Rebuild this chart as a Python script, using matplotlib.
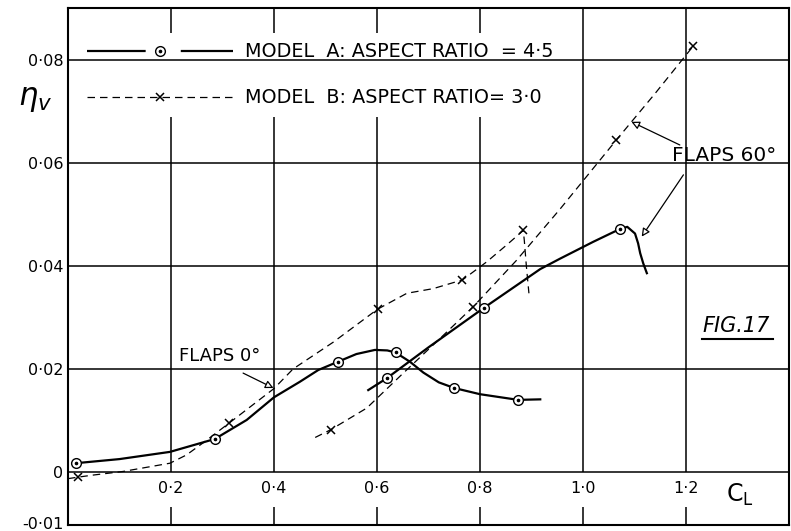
import matplotlib
matplotlib.use('Agg')

import matplotlib.pyplot as plt
from matplotlib.lines import Line2D
from matplotlib.legend_handler import HandlerTuple

plt.rcParams['font.family'] = ['DejaVu Sans']

# Model A (aspect ratio 4.5), flaps 0 deg: test points and traced faired curve
a0_cl = [0.015, 0.285, 0.524, 0.636, 0.750, 0.874]
a0_eta = [0.0017, 0.0064, 0.0214, 0.0232, 0.0163, 0.0140]
a0_curve_cl = [0.015, 0.10, 0.198, 0.285, 0.347, 0.40, 0.45, 0.486, 0.524, 0.56, 0.596,
               0.620, 0.636, 0.664, 0.690, 0.720, 0.750, 0.800, 0.874, 0.917]
a0_curve_eta = [0.0017, 0.0025, 0.0039, 0.0064, 0.0101, 0.0145, 0.0175, 0.0198, 0.0214, 0.0229, 0.0237,
                0.0236, 0.0232, 0.0214, 0.0193, 0.0174, 0.0163, 0.0151, 0.0140, 0.0141]

# Model A, flaps 60 deg
a60_cl = [0.619, 0.808, 1.072]
a60_eta = [0.0182, 0.0319, 0.0472]
a60_curve_cl = [0.583, 0.619, 0.70, 0.808, 0.917, 0.955, 1.02, 1.072, 1.086, 1.101, 1.107,
                1.111, 1.117, 1.124]
a60_curve_eta = [0.0159, 0.0182, 0.0242, 0.0319, 0.0394, 0.0414, 0.0447, 0.0472, 0.0476, 0.0463, 0.0444,
                 0.0425, 0.0405, 0.0386]

# Model B (aspect ratio 3.0), flaps 0 deg
b0_cl = [0.02, 0.313, 0.601, 0.766, 0.884]
b0_eta = [-0.0010, 0.0095, 0.0316, 0.0373, 0.0469]
b0_curve_cl = [0.0, 0.02, 0.049, 0.107, 0.198, 0.230, 0.263, 0.313, 0.40, 0.437, 0.515, 0.601,
               0.658, 0.709, 0.766, 0.813, 0.852, 0.884, 0.886, 0.890, 0.895]
b0_curve_eta = [-0.0013, -0.0010, -0.0006, 0.0001, 0.0017, 0.0033, 0.0057, 0.0095, 0.0162, 0.0200, 0.0252, 0.0316,
                0.0347, 0.0356, 0.0373, 0.0408, 0.0441, 0.0469, 0.0450, 0.0400, 0.0347]

# Model B, flaps 60 deg
b60_cl = [0.510, 0.787, 1.065, 1.214]
b60_eta = [0.0082, 0.0321, 0.0645, 0.0827]
b60_curve_cl = [0.48, 0.51, 0.58, 0.65, 0.72, 0.787, 0.87, 0.955, 1.065, 1.14, 1.214]
b60_curve_eta = [0.0067, 0.0082, 0.0124, 0.0191, 0.0257, 0.0321, 0.0410, 0.0510, 0.0645, 0.0735, 0.0827]

x_ticks = [0.2, 0.4, 0.6, 0.8, 1.0, 1.2]
x_labels = ['0·2', '0·4', '0·6', '0·8', '1·0', '1·2']
y_ticks = [0.08, 0.06, 0.04, 0.02, 0.0, -0.01]
y_labels = ['0·08', '0·06', '0·04', '0·02', '0', '-0·01']
grid_y = [0.0, 0.02, 0.04, 0.06, 0.08]

fig = plt.figure(figsize=(7.91, 5.31), dpi=100)
ax = fig.add_axes([68 / 791, 6 / 531, 721 / 791, 517 / 531])
ax.set_xlim(0, 1.4)
ax.set_ylim(-0.0103, 0.0901)

for s in ax.spines.values():
    s.set_linewidth(1.5)

# grid: verticals stop at the zero line, horizontals run full width
ax.vlines(x_ticks, 0, 0.0901, colors='black', lw=1.1, zorder=1)
for gy in grid_y:
    # the 0.08 line runs over the legend box, as in the original
    ax.axhline(gy, color='black', lw=1.1, zorder=3 if gy == 0.08 else 1)

ax.set_xticks(x_ticks)
ax.set_xticklabels(x_labels)
ax.tick_params(axis='x', direction='in', length=13, width=1.1, pad=-31.5, labelsize=11.5)
ax.set_yticks(y_ticks)
ax.set_yticklabels(y_labels)
ax.tick_params(axis='y', length=0, pad=3.5, labelsize=11.5)

# curves
ax.plot(a0_curve_cl, a0_curve_eta, color='black', lw=1.6, zorder=4)
ax.plot(a60_curve_cl, a60_curve_eta, color='black', lw=1.6, zorder=4)
ax.plot(b0_curve_cl, b0_curve_eta, color='black', lw=0.9, dashes=(6, 4), zorder=4)
ax.plot(b60_curve_cl, b60_curve_eta, color='black', lw=0.9, dashes=(6, 4), zorder=4)

# points
circ_kw = dict(ls='none', marker='o', ms=7, mfc='white', mec='black', mew=1.0, zorder=5)
dot_kw = dict(ls='none', marker='o', ms=1.6, mfc='black', mec='black', zorder=6)
ax.plot(a0_cl, a0_eta, **circ_kw)
ax.plot(a0_cl, a0_eta, **dot_kw)
ax.plot(a60_cl, a60_eta, **circ_kw)
ax.plot(a60_cl, a60_eta, **dot_kw)
cross_kw = dict(ls='none', marker='x', ms=6, mec='black', mew=1.1, zorder=5)
ax.plot(b0_cl, b0_eta, **cross_kw)
ax.plot(b60_cl, b60_eta, **cross_kw)

# legend
h_a_line = Line2D([], [], color='black', lw=1.6, dashes=(26.4, 15.8))
h_a_circ = Line2D([], [], **circ_kw)
h_a_dot = Line2D([], [], **dot_kw)
h_b = Line2D([], [], color='black', lw=0.9, dashes=(6, 4), marker='x', ms=6, mew=1.1)
leg = ax.legend([(h_a_line, h_a_circ, h_a_dot), h_b],
                ['MODEL  A: ASPECT RATIO  = 4·5', 'MODEL  B: ASPECT RATIO= 3·0'],
                handler_map={tuple: HandlerTuple(ndivide=1)},
                loc='upper left', bbox_to_anchor=(0.0125, 0.952), borderaxespad=0,
                fontsize=13.8, handlelength=7.65, handletextpad=0.6, labelspacing=1.4,
                borderpad=0.5, frameon=True, fancybox=False, framealpha=1)
leg.get_frame().set_facecolor('white')
leg.get_frame().set_edgecolor('none')
leg.set_zorder(2.5)

# annotations
arrow_kw = dict(arrowstyle='-|>', fc='white', ec='black', lw=0.9, mutation_scale=12,
                shrinkA=0, shrinkB=0)
ax.text(0.294, 0.0225, 'FLAPS 0°', fontsize=13, ha='center', va='center', zorder=7)
ax.annotate('', xy=(0.399, 0.0163), xytext=(0.340, 0.0192), arrowprops=arrow_kw, zorder=7)
ax.text(1.274, 0.0614, 'FLAPS 60°', fontsize=14.5, ha='center', va='center', zorder=7)
ax.annotate('', xy=(1.094, 0.068), xytext=(1.188, 0.0635), arrowprops=arrow_kw, zorder=7)
ax.annotate('', xy=(1.114, 0.0457), xytext=(1.195, 0.0577), arrowprops=arrow_kw, zorder=7)

ax.text(1.305, -0.0045, 'C$_\\mathrm{L}$', fontsize=17, ha='center', va='center')
ax.set_ylabel('$\\eta_v$', rotation=0, fontsize=22)
ax.yaxis.set_label_coords(-0.045, 0.795)

fig_txt = ax.text(1.297, 0.0284, 'FIG.17', fontsize=15, style='italic', ha='center', va='center')
fig.canvas.draw()
bb = fig_txt.get_window_extent()
fig.add_artist(Line2D([bb.x0, bb.x1 + 3], [bb.y0 - 3, bb.y0 - 3], transform=None,
                      color='black', lw=1.5))

fig.savefig('out.png', dpi=100)
